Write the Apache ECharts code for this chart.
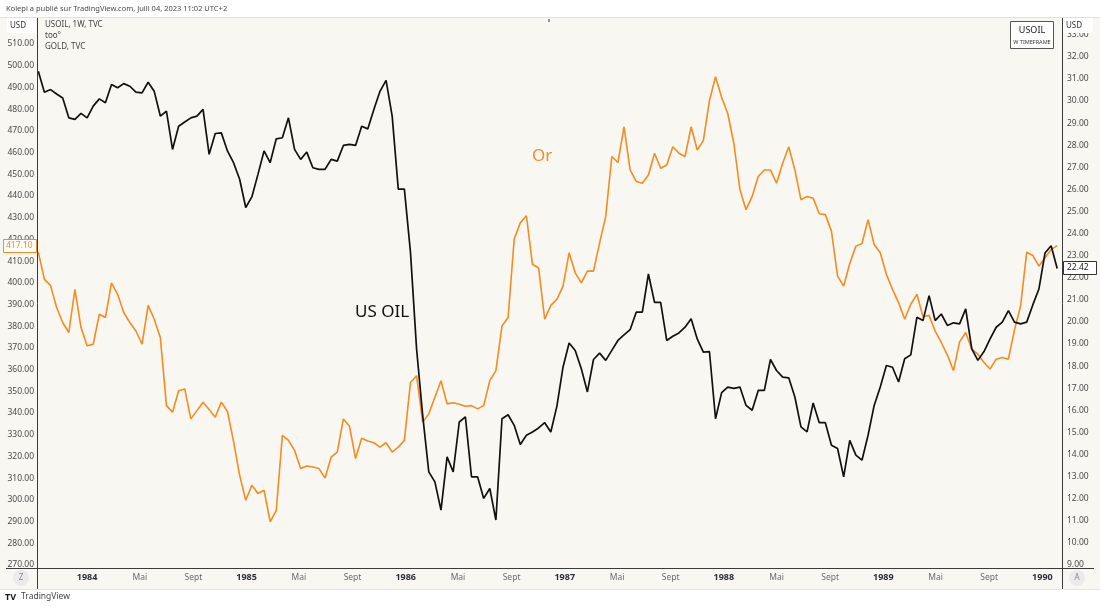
<!DOCTYPE html>
<html>
<head>
<meta charset="utf-8">
<script src="https://cdn.jsdelivr.net/npm/echarts@6/dist/echarts.min.js"></script>
<style>
html, body { margin: 0; padding: 0; background: #fff; }
#chart { width: 1100px; height: 607px; }
</style>
</head>
<body>
<div id="chart"></div>
<script>
// valeurs, un point toutes les 2 semaines
var startDate = '1983-09-11';
var stepDays = 14;

// USOIL (échelle de droite)
var oil = [
    31.35, 30.40, 30.52, 30.32, 30.14, 29.24, 29.17, 29.44, 29.24, 29.77,
    30.10, 29.92, 30.75, 30.60, 30.79, 30.67, 30.40, 30.37, 30.85, 30.44,
    29.32, 29.54, 27.81, 28.86, 29.05, 29.24, 29.32, 29.62, 27.59, 28.53,
    28.56, 27.74, 27.21, 26.46, 25.18, 25.66, 26.68, 27.74, 27.21, 28.29,
    28.34, 29.24, 27.81, 27.36, 27.69, 26.98, 26.91, 26.91, 27.36, 27.28,
    27.99, 28.04, 27.99, 28.86, 28.74, 29.62, 30.44, 30.94, 29.32, 26.01,
    26.01, 23.15, 18.78, 15.77, 13.21, 12.76, 11.48, 13.89, 13.21, 15.47,
    15.70, 12.99, 12.99, 12.01, 12.46, 11.03, 15.62, 15.80, 15.32, 14.45,
    14.87, 15.02, 15.20, 15.44, 15.02, 16.19, 17.95, 19.05, 18.71, 17.88,
    16.83, 18.30, 18.59, 18.26, 18.71, 19.16, 19.41, 19.65, 20.44, 20.44,
    22.17, 20.89, 20.89, 19.16, 19.35, 19.50, 19.76, 20.14, 19.23, 18.63,
    18.66, 15.62, 16.80, 17.05, 16.99, 17.05, 16.22, 16.00, 16.90, 16.90,
    18.30, 17.80, 17.50, 17.47, 16.60, 15.25, 15.02, 16.33, 15.44, 15.44,
    14.42, 14.27, 12.99, 14.64, 13.97, 13.74, 14.87, 16.22, 17.05, 18.03,
    17.95, 17.28, 18.33, 18.51, 20.21, 20.06, 21.19, 20.06, 20.36, 19.84,
    19.96, 19.91, 20.59, 18.78, 18.26, 18.66, 19.23, 19.76, 19.99, 20.51,
    19.99, 19.91, 19.99, 20.77, 21.49, 23.12, 23.45, 22.42
];

// GOLD (échelle de gauche)
var gold = [
    414.1, 401.6, 398.8, 388.6, 381.7, 377.1, 397.0, 379.4, 371.0, 371.7,
    385.5, 384.0, 400.0, 394.7, 386.3, 381.7, 377.8, 371.7, 389.6, 383.2,
    374.8, 343.4, 340.4, 350.3, 351.1, 337.3, 341.1, 345.0, 341.6, 338.1,
    345.0, 340.7, 326.9, 311.3, 299.8, 306.7, 302.9, 304.4, 289.9, 295.2,
    329.7, 327.4, 322.8, 314.4, 315.6, 315.1, 314.4, 310.1, 319.7, 322.0,
    337.3, 333.9, 319.0, 328.4, 327.1, 326.3, 324.3, 326.3, 322.0, 324.3,
    327.4, 354.1, 357.2, 335.8, 339.6, 347.3, 354.9, 344.2, 344.7, 344.0,
    343.1, 343.4, 341.9, 343.4, 354.9, 359.5, 380.1, 384.0, 420.2, 427.6,
    430.9, 408.4, 406.9, 383.2, 389.6, 392.4, 398.5, 413.8, 404.6, 400.0,
    405.4, 405.4, 418.4, 430.6, 458.2, 455.4, 471.9, 452.0, 446.7, 445.9,
    449.7, 459.7, 452.8, 454.3, 462.7, 459.7, 458.2, 471.9, 461.2, 465.5,
    483.9, 494.9, 485.4, 478.0, 464.3, 442.9, 433.7, 439.8, 449.0, 452.0,
    452.0, 445.9, 455.1, 462.7, 452.0, 438.3, 439.8, 439.0, 431.8, 431.4,
    423.7, 403.1, 398.5, 408.9, 416.9, 418.1, 429.1, 417.6, 413.8, 403.9,
    397.0, 390.9, 383.2, 390.1, 394.7, 384.4, 385.0, 377.7, 372.5, 366.7,
    359.5, 372.8, 377.1, 369.4, 367.1, 363.3, 360.3, 364.8, 365.6, 364.8,
    378.3, 389.3, 414.1, 412.6, 407.7, 411.5, 415.3, 417.1
];

var goldTicks = [270, 280, 290, 300, 310, 320, 330, 340, 350, 360, 370, 380, 390,
    400, 410, 420, 430, 440, 450, 460, 470, 480, 490, 500, 510];
var oilTicks = [9, 10, 11, 12, 13, 14, 15, 16, 17, 18, 19, 20, 21, 22, 23, 24,
    25, 26, 27, 28, 29, 30, 31, 32, 33];

var xTickDates = ['1984-01-01', '1984-05-01', '1984-09-01', '1985-01-01', '1985-05-01', '1985-09-01',
    '1986-01-01', '1986-05-01', '1986-09-01', '1987-01-01', '1987-05-01', '1987-09-01',
    '1988-01-01', '1988-05-01', '1988-09-01', '1989-01-01', '1989-05-01', '1989-09-01', '1990-01-01'];
var xTickLabels = ['1984', 'Mai', 'Sept', '1985', 'Mai', 'Sept', '1986', 'Mai', 'Sept',
    '1987', 'Mai', 'Sept', '1988', 'Mai', 'Sept', '1989', 'Mai', 'Sept', '1990'];

var FONT = 'Noto Sans';

function toTime(s, addDays) {
    var p = s.split('-');
    return new Date(+p[0], +p[1] - 1, +p[2] + (addDays || 0)).getTime();
}

var xTickTimes = xTickDates.map(function (d) { return toTime(d); });

function pairs(values) {
    return values.map(function (v, i) {
        return [toTime(startDate, i * stepDays), v];
    });
}

var chart = echarts.init(document.getElementById('chart'));

var option = {
    backgroundColor: '#F8F7F2',
    animation: false,
    grid: { left: 37, right: 38, top: 18, bottom: 39 },
    xAxis: {
        type: 'value',
        min: toTime('1983-09-08'),
        max: toTime('1990-02-15'),
        axisLine: { show: false },
        axisTick: { show: false },
        splitLine: { show: false },
        axisLabel: {
            customValues: xTickTimes,
            margin: 5,
            formatter: function (value) {
                for (var i = 0; i < xTickTimes.length; i++) {
                    if (Math.abs(xTickTimes[i] - value) < 86400000) {
                        return /^\d+$/.test(xTickLabels[i]) ? '{y|' + xTickLabels[i] + '}' : '{m|' + xTickLabels[i] + '}';
                    }
                }
                return '';
            },
            rich: {
                y: { fontFamily: FONT, fontSize: 9, fontWeight: 'bold', color: '#2a2e39' },
                m: { fontFamily: FONT, fontSize: 8.5, color: '#6b6b6b' }
            }
        }
    },
    yAxis: [
        {
            type: 'value',
            position: 'left',
            min: 268.6,
            max: 522,
            axisLine: { show: false },
            axisTick: { show: false },
            splitLine: { show: false },
            axisLabel: {
                customValues: goldTicks,
                margin: 3,
                fontFamily: FONT,
                fontSize: 8.5,
                color: '#4a4a4a',
                formatter: function (v) { return v.toFixed(2); }
            }
        },
        {
            type: 'value',
            position: 'right',
            min: 8.86,
            max: 33.76,
            axisLine: { show: false },
            axisTick: { show: false },
            splitLine: { show: false },
            axisLabel: {
                customValues: oilTicks,
                margin: 5,
                fontFamily: FONT,
                fontSize: 8.5,
                color: '#4a4a4a',
                formatter: function (v) { return v.toFixed(2); }
            }
        }
    ],
    series: [
        {
            name: 'GOLD',
            type: 'line',
            yAxisIndex: 0,
            data: pairs(gold),
            showSymbol: false,
            lineStyle: { color: '#F68B1F', width: 1.6 }
        },
        {
            name: 'USOIL',
            type: 'line',
            yAxisIndex: 1,
            data: pairs(oil),
            showSymbol: false,
            lineStyle: { color: '#111111', width: 1.7 }
        }
    ]
};

chart.setOption(option);

// cadres, textes et étiquettes de dernière valeur
var yGold = chart.convertToPixel({ yAxisIndex: 0 }, gold[gold.length - 1]);
var yOil = chart.convertToPixel({ yAxisIndex: 1 }, oil[oil.length - 1]);

function txt(x, y, s, size, color, extra) {
    var st = { text: s, x: x, y: y, fontFamily: FONT, fontSize: size, fill: color, textVerticalAlign: 'middle' };
    for (var k in extra) st[k] = extra[k];
    return { type: 'text', z: 100, style: st };
}

var graphic = [
    { type: 'rect', z: 90, shape: { x: 0, y: 0, width: 1100, height: 17 }, style: { fill: '#ffffff' } },
    { type: 'rect', z: 90, shape: { x: 0, y: 590, width: 1100, height: 17 }, style: { fill: '#ffffff' } },
    { type: 'line', z: 95, shape: { x1: 0, y1: 17.5, x2: 1100, y2: 17.5 }, style: { stroke: '#e2e1dc', lineWidth: 1 } },
    { type: 'line', z: 95, shape: { x1: 0, y1: 589.5, x2: 1100, y2: 589.5 }, style: { stroke: '#e6e5e0', lineWidth: 1 } },
    { type: 'line', z: 95, shape: { x1: 37.5, y1: 18, x2: 37.5, y2: 589 }, style: { stroke: '#3a3a3a', lineWidth: 1 } },
    { type: 'line', z: 95, shape: { x1: 1062.5, y1: 18, x2: 1062.5, y2: 589 }, style: { stroke: '#3a3a3a', lineWidth: 1 } },
    { type: 'line', z: 95, shape: { x1: 6, y1: 568.5, x2: 1094, y2: 568.5 }, style: { stroke: '#3a3a3a', lineWidth: 1 } },

    txt(6, 8.5, 'Kolepi a publié sur TradingView.com, Juill 04, 2023 11:02 UTC+2', 7.5, '#4a4a4a'),

    { type: 'rect', z: 98, shape: { x: 7, y: 18, width: 29, height: 15 }, style: { fill: '#ffffff' } },
    txt(10, 25.5, 'USD', 8, '#333'),
    { type: 'rect', z: 98, shape: { x: 1063, y: 18, width: 30, height: 15 }, style: { fill: '#ffffff' } },
    txt(1066, 25.5, 'USD', 8, '#333'),

    txt(45, 25, 'USOIL, 1W, TVC', 8, '#444'),
    txt(45, 36, 'too°', 8, '#444'),
    txt(45, 47, 'GOLD, TVC', 8, '#444'),

    { type: 'rect', z: 98, shape: { x: 1010.5, y: 21.5, width: 43, height: 27 }, style: { fill: '#ffffff', stroke: '#555', lineWidth: 1 } },
    txt(1032, 30, 'USOIL', 9, '#222', { textAlign: 'center' }),
    txt(1032, 42.5, 'W TIMEFRAME', 5.5, '#333', { textAlign: 'center' }),

    { type: 'rect', z: 95, shape: { x: 548.5, y: 19, width: 1, height: 3 }, style: { fill: '#333' } },

    txt(355, 312, 'US OIL', 17, '#111'),
    txt(532, 156, 'Or', 17, '#F68B1F'),

    { type: 'rect', z: 99, shape: { x: 3.5, y: Math.round(yGold) - 6.5, width: 33, height: 13 }, style: { fill: '#ffffff', stroke: '#F68B1F', lineWidth: 1 } },
    txt(6, Math.round(yGold), gold[gold.length - 1].toFixed(2), 8.5, '#F68B1F'),
    { type: 'rect', z: 99, shape: { x: 1063.5, y: Math.round(yOil) - 6.5, width: 33, height: 13 }, style: { fill: '#ffffff', stroke: '#333', lineWidth: 1 } },
    txt(1067, Math.round(yOil), oil[oil.length - 1].toFixed(2), 8.5, '#222'),

    { type: 'circle', z: 98, shape: { cx: 21, cy: 578, r: 8 }, style: { fill: '#ebebeb' } },
    txt(21, 578, 'Z', 8, '#888', { textAlign: 'center' }),
    { type: 'circle', z: 98, shape: { cx: 1077, cy: 578, r: 8 }, style: { fill: '#ebebeb' } },
    txt(1077, 578, 'A', 8, '#888', { textAlign: 'center' }),

    txt(5, 597, 'TV', 9, '#131722', { fontWeight: 'bold' }),
    txt(21, 597, 'TradingView', 8.5, '#444')
];

chart.setOption({ graphic: graphic });
</script>
</body>
</html>
